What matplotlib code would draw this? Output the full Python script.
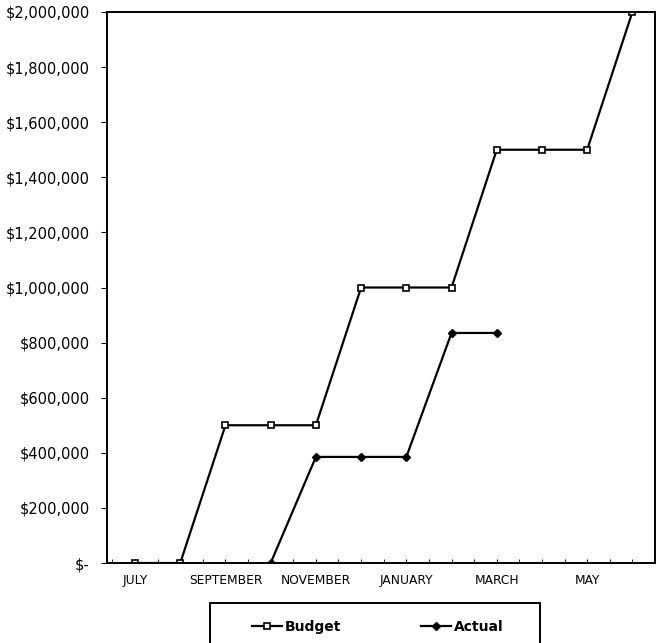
import matplotlib
matplotlib.use("Agg")
import matplotlib.pyplot as plt
from matplotlib.patches import Rectangle
from matplotlib.ticker import FuncFormatter, MultipleLocator

months = ["JULY", "AUGUST", "SEPTEMBER", "OCTOBER", "NOVEMBER", "DECEMBER",
          "JANUARY", "FEBRUARY", "MARCH", "APRIL", "MAY", "JUNE"]
budget = [0, 0, 500000, 500000, 500000, 1000000, 1000000, 1000000,
          1500000, 1500000, 1500000, 2000000]
actual_months = ["OCTOBER", "NOVEMBER", "DECEMBER", "JANUARY", "FEBRUARY", "MARCH"]
actual = [0, 385000, 385000, 385000, 835000, 835000]
tick_labels = ["JULY", "SEPTEMBER", "NOVEMBER", "JANUARY", "MARCH", "MAY"]

plt.rcParams['font.family'] = ['DejaVu Sans']

W, H = 657, 643
fig = plt.figure(figsize=(W / 100, H / 100), dpi=100)
ax = fig.add_axes([107 / W, 1 - 563 / H, 548 / W, 551 / H])

xb = list(range(len(months)))
xa = [months.index(m) for m in actual_months]

ax.plot(xb, budget, color='black', lw=1.6, marker='s', markersize=5,
        markerfacecolor='white', markeredgecolor='black', markeredgewidth=1.2,
        label='Budget')
ax.plot(xa, actual, color='black', lw=1.6, marker='D', markersize=4.5,
        markerfacecolor='black', markeredgecolor='black', label='Actual')

ax.set_xlim(-0.62, 11.49)
ax.set_ylim(0, 2000000)
ax.yaxis.set_major_locator(MultipleLocator(200000))
ax.yaxis.set_major_formatter(FuncFormatter(
    lambda v, p: "$-" if v == 0 else "${:,.0f}".format(v)))
ax.set_xticks([months.index(m) for m in tick_labels])
ax.set_xticklabels(tick_labels, fontsize=8.8)
ax.set_xticks([i + 0.5 for i in range(-1, 12)] + list(range(12)), minor=True)
ax.tick_params(axis='x', which='both', direction='in', length=3, pad=8)
ax.tick_params(axis='y', which='major', direction='out', length=4,
               labelsize=10.5, pad=8.5)
for s in ax.spines.values():
    s.set_linewidth(1.4)
    s.set_color('black')

leg = fig.legend(loc='center left', bbox_to_anchor=(252 / W, 1 - 627 / H), ncol=2,
                 frameon=False, handlelength=2.16, handletextpad=0.22,
                 columnspacing=5.7, borderpad=0, borderaxespad=0,
                 prop={'weight': 'bold', 'size': 10})

fig.patches.append(Rectangle((210 / W, -0.05), 330 / W, 0.05 + 1 - 603 / H,
                             transform=fig.transFigure, fill=False,
                             edgecolor='black', linewidth=1.4))

fig.savefig("out.png", dpi=100)
